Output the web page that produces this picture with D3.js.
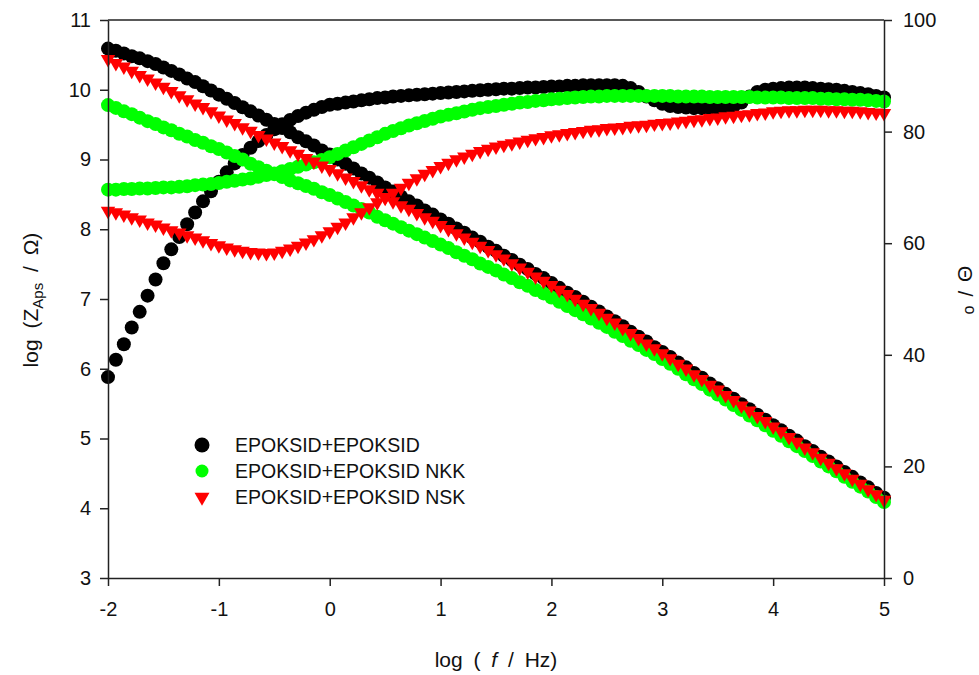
<!DOCTYPE html>
<html>
<head>
<meta charset="utf-8">
<script src="https://cdn.jsdelivr.net/npm/d3@7"></script>
<style>
  body { margin: 0; background: #fff; }
  text { font-family: Arial, "Liberation Sans", sans-serif; fill: #111; }
</style>
</head>
<body>
<div id="chart"></div>
<script>
// frequency grid, log(f / Hz)
var logF = [
  -2.000, -1.929, -1.857, -1.786, -1.714, -1.643, -1.571, -1.500, -1.429, -1.357, -1.286, -1.214, -1.143, -1.071,
  -1.000, -0.929, -0.857, -0.786, -0.714, -0.643, -0.571, -0.500, -0.429, -0.357, -0.286, -0.214, -0.143, -0.071,
  0.000, 0.071, 0.143, 0.214, 0.286, 0.357, 0.429, 0.500, 0.571, 0.643, 0.714, 0.786, 0.857, 0.929,
  1.000, 1.071, 1.143, 1.214, 1.286, 1.357, 1.429, 1.500, 1.571, 1.643, 1.714, 1.786, 1.857, 1.929,
  2.000, 2.071, 2.143, 2.214, 2.286, 2.357, 2.429, 2.500, 2.571, 2.643, 2.714, 2.786, 2.857, 2.929,
  3.000, 3.071, 3.143, 3.214, 3.286, 3.357, 3.429, 3.500, 3.571, 3.643, 3.714, 3.786, 3.857, 3.929,
  4.000, 4.071, 4.143, 4.214, 4.286, 4.357, 4.429, 4.500, 4.571, 4.643, 4.714, 4.786, 4.857, 4.929,
  5.000
];

// EPOKSID+EPOKSID
var zEpoksid = [
  10.59, 10.56, 10.52, 10.48, 10.45, 10.41, 10.37, 10.32, 10.27, 10.22, 10.16, 10.11, 10.05, 9.99,
  9.93, 9.87, 9.81, 9.75, 9.69, 9.63, 9.57, 9.51, 9.45, 9.39, 9.32, 9.26, 9.20, 9.13,
  9.07, 9.00, 8.94, 8.87, 8.80, 8.74, 8.67, 8.60, 8.54, 8.47, 8.40, 8.34, 8.27, 8.21,
  8.14, 8.08, 8.01, 7.95, 7.88, 7.82, 7.75, 7.69, 7.62, 7.56, 7.49, 7.43, 7.36, 7.30,
  7.23, 7.16, 7.09, 7.03, 6.96, 6.89, 6.82, 6.75, 6.68, 6.61, 6.53, 6.46, 6.39, 6.31,
  6.24, 6.17, 6.09, 6.02, 5.94, 5.87, 5.79, 5.72, 5.64, 5.57, 5.49, 5.42, 5.34, 5.27,
  5.19, 5.12, 5.04, 4.97, 4.89, 4.82, 4.74, 4.67, 4.60, 4.52, 4.45, 4.37, 4.30, 4.22,
  4.15
];
var phEpoksid = [
  36.0, 39.1, 41.9, 44.9, 47.7, 50.6, 53.5, 56.4, 58.9, 61.1, 63.4, 65.5, 67.5, 69.3,
  71.0, 72.7, 74.3, 75.8, 77.1, 78.3, 79.4, 80.4, 81.3, 82.1, 82.8, 83.4, 83.9, 84.4,
  84.8, 85.0, 85.2, 85.4, 85.6, 85.8, 86.0, 86.1, 86.3, 86.4, 86.5, 86.6, 86.7, 86.8,
  86.9, 87.0, 87.1, 87.2, 87.3, 87.4, 87.5, 87.6, 87.7, 87.7, 87.8, 87.9, 87.9, 88.0,
  88.1, 88.1, 88.2, 88.2, 88.3, 88.3, 88.3, 88.3, 88.3, 88.2, 87.8, 87.1, 86.3, 85.6,
  85.0, 84.6, 84.4, 84.3, 84.2, 84.2, 84.2, 84.2, 84.3, 84.5, 85.2, 86.3, 87.1, 87.5,
  87.7, 87.8, 87.9, 87.9, 87.9, 87.8, 87.7, 87.6, 87.5, 87.3, 87.1, 86.9, 86.7, 86.4,
  86.1
];

// EPOKSID+EPOKSID NKK
var zNkk = [
  9.78, 9.74, 9.69, 9.65, 9.60, 9.55, 9.51, 9.46, 9.42, 9.37, 9.33, 9.28, 9.24, 9.19,
  9.15, 9.10, 9.05, 9.00, 8.94, 8.89, 8.84, 8.79, 8.75, 8.70, 8.66, 8.62, 8.58, 8.53,
  8.49, 8.44, 8.39, 8.34, 8.29, 8.24, 8.18, 8.13, 8.08, 8.03, 7.98, 7.93, 7.88, 7.83,
  7.78, 7.73, 7.67, 7.62, 7.57, 7.51, 7.46, 7.41, 7.35, 7.30, 7.24, 7.19, 7.13, 7.08,
  7.02, 6.96, 6.90, 6.84, 6.78, 6.72, 6.66, 6.60, 6.53, 6.47, 6.40, 6.34, 6.27, 6.21,
  6.14, 6.07, 6.00, 5.92, 5.85, 5.78, 5.70, 5.63, 5.56, 5.48, 5.41, 5.33, 5.26, 5.19,
  5.11, 5.04, 4.96, 4.89, 4.82, 4.75, 4.67, 4.60, 4.53, 4.45, 4.38, 4.31, 4.24, 4.16,
  4.09
];
var phNkk = [
  69.6, 69.6, 69.7, 69.7, 69.8, 69.8, 69.9, 70.0, 70.0, 70.1, 70.2, 70.4, 70.5, 70.6,
  70.8, 71.0, 71.2, 71.4, 71.6, 71.9, 72.2, 72.5, 72.9, 73.3, 73.7, 74.1, 74.5, 74.9,
  75.4, 76.0, 76.6, 77.2, 77.8, 78.4, 79.0, 79.6, 80.1, 80.6, 81.1, 81.5, 81.9, 82.3,
  82.7, 83.0, 83.3, 83.6, 83.9, 84.2, 84.4, 84.6, 84.8, 85.0, 85.2, 85.3, 85.5, 85.6,
  85.8, 85.9, 86.0, 86.1, 86.2, 86.3, 86.3, 86.4, 86.4, 86.4, 86.4, 86.4, 86.4, 86.4,
  86.4, 86.4, 86.3, 86.3, 86.3, 86.3, 86.2, 86.2, 86.2, 86.2, 86.2, 86.2, 86.1, 86.1,
  86.1, 86.1, 86.0, 86.0, 86.0, 86.0, 85.9, 85.9, 85.8, 85.8, 85.7, 85.7, 85.6, 85.5,
  85.4
];

// EPOKSID+EPOKSID NSK
var zNsk = [
  10.44, 10.38, 10.33, 10.27, 10.21, 10.16, 10.10, 10.04, 9.98, 9.92, 9.86, 9.80, 9.75, 9.69,
  9.63, 9.57, 9.52, 9.46, 9.41, 9.35, 9.30, 9.24, 9.19, 9.13, 9.08, 9.02, 8.97, 8.91,
  8.86, 8.80, 8.74, 8.69, 8.63, 8.57, 8.52, 8.46, 8.40, 8.34, 8.29, 8.23, 8.17, 8.12,
  8.06, 8.00, 7.94, 7.88, 7.82, 7.76, 7.70, 7.64, 7.58, 7.51, 7.45, 7.39, 7.32, 7.26,
  7.20, 7.13, 7.07, 7.00, 6.93, 6.87, 6.80, 6.73, 6.66, 6.58, 6.51, 6.44, 6.36, 6.29,
  6.22, 6.15, 6.07, 6.00, 5.92, 5.85, 5.77, 5.70, 5.62, 5.55, 5.47, 5.40, 5.32, 5.25,
  5.17, 5.10, 5.02, 4.95, 4.87, 4.80, 4.72, 4.65, 4.57, 4.50, 4.42, 4.35, 4.27, 4.20,
  4.12
];
var phNsk = [
  65.8, 65.5, 65.1, 64.6, 64.2, 63.7, 63.3, 62.8, 62.3, 61.9, 61.4, 61.0, 60.5, 60.0,
  59.6, 59.2, 58.9, 58.6, 58.4, 58.3, 58.2, 58.3, 58.6, 59.0, 59.5, 60.1, 60.7, 61.4,
  62.1, 62.9, 63.7, 64.6, 65.5, 66.4, 67.3, 68.1, 69.0, 69.9, 70.8, 71.6, 72.4, 73.1,
  73.8, 74.4, 75.0, 75.5, 76.0, 76.5, 76.9, 77.3, 77.6, 77.9, 78.2, 78.5, 78.8, 79.0,
  79.3, 79.5, 79.7, 79.9, 80.1, 80.3, 80.4, 80.6, 80.7, 80.8, 81.0, 81.1, 81.2, 81.4,
  81.5, 81.6, 81.8, 81.9, 82.1, 82.2, 82.4, 82.5, 82.7, 82.8, 83.0, 83.1, 83.3, 83.4,
  83.6, 83.7, 83.8, 83.8, 83.9, 83.9, 83.9, 83.8, 83.8, 83.7, 83.7, 83.6, 83.5, 83.4,
  83.3
];

var seriesNames = ["EPOKSID+EPOKSID", "EPOKSID+EPOKSID NKK", "EPOKSID+EPOKSID NSK"];
var xTicks = [-2, -1, 0, 1, 2, 3, 4, 5];
var yTicks = [3, 4, 5, 6, 7, 8, 9, 10, 11];
var y2Ticks = [0, 20, 40, 60, 80, 100];

var width = 979, height = 675;
var margin = {top: 20, right: 95, bottom: 97, left: 108};

var svg = d3.select("#chart").append("svg")
    .attr("width", width)
    .attr("height", height);

var x = d3.scaleLinear().domain([-2, 5]).range([margin.left, width - margin.right]);
var y = d3.scaleLinear().domain([3, 11]).range([height - margin.bottom, margin.top]);
var y2 = d3.scaleLinear().domain([0, 100]).range([height - margin.bottom, margin.top]);

var triDown = d3.symbol().type(d3.symbolTriangle).size(90)();

var series = [
  {name: seriesNames[0], z: zEpoksid, ph: phEpoksid, color: "#000000", shape: "circle"},
  {name: seriesNames[1], z: zNkk, ph: phNkk, color: "#00ff00", shape: "circle"},
  {name: seriesNames[2], z: zNsk, ph: phNsk, color: "#ff0000", shape: "triangle"}
];

var plot = svg.append("g");

series.forEach(function(s) {
  var g = plot.append("g");
  [[s.z, y], [s.ph, y2]].forEach(function(pair) {
    var vals = pair[0], sc = pair[1];
    var pts = logF.map(function(f, i) { return {f: f, v: vals[i]}; });
    if (s.shape == "circle") {
      g.selectAll(null)
        .data(pts)
        .enter().append("circle")
          .attr("cx", function(d) { return x(d.f); })
          .attr("cy", function(d) { return sc(d.v); })
          .attr("r", 7)
          .attr("fill", s.color);
    } else {
      g.selectAll(null)
        .data(pts)
        .enter().append("path")
          .attr("d", triDown)
          .attr("transform", function(d) {
            return "translate(" + x(d.f) + "," + sc(d.v) + ") rotate(180)";
          })
          .attr("fill", s.color);
    }
  });
});

// axes
var axisColor = "#222";

var xAxis = svg.append("g")
    .attr("transform", "translate(0," + (height - margin.bottom) + ")")
    .call(d3.axisBottom(x).tickValues(xTicks).tickSize(8).tickSizeOuter(0).tickPadding(16)
      .tickFormat(function(d) { return String(d); }));

var yAxis = svg.append("g")
    .attr("transform", "translate(" + margin.left + ",0)")
    .call(d3.axisLeft(y).tickValues(yTicks).tickSize(8).tickSizeOuter(0).tickPadding(9)
      .tickFormat(function(d) { return String(d); }));

var y2Axis = svg.append("g")
    .attr("transform", "translate(" + (width - margin.right) + ",0)")
    .call(d3.axisRight(y2).tickValues(y2Ticks).tickSize(8).tickSizeOuter(0).tickPadding(11)
      .tickFormat(function(d) { return String(d); }));

[xAxis, yAxis, y2Axis].forEach(function(a) {
  a.selectAll("path, line").attr("stroke", axisColor).attr("stroke-width", 1.5);
  a.selectAll("text").attr("font-size", 20).attr("fill", "#111")
    .attr("font-family", "Arial, 'Liberation Sans', sans-serif");
});

// top frame line
svg.append("line")
    .attr("x1", margin.left).attr("x2", width - margin.right)
    .attr("y1", margin.top).attr("y2", margin.top)
    .attr("stroke", axisColor).attr("stroke-width", 1.5);

// axis titles
var xt = svg.append("text")
    .attr("x", 496).attr("y", 667)
    .attr("text-anchor", "middle")
    .attr("font-size", 21)
    .style("word-spacing", "5px");
xt.append("tspan").text("log ( ");
xt.append("tspan").attr("font-style", "italic").text("f");
xt.append("tspan").text(" / Hz)");

var yt = svg.append("text")
    .attr("transform", "translate(38,300) rotate(-90)")
    .attr("text-anchor", "middle")
    .attr("font-size", 21)
    .style("word-spacing", "5px");
yt.append("tspan").text("log (Z");
yt.append("tspan").attr("font-size", 15).attr("dy", 5).text("Aps");
yt.append("tspan").attr("dy", -5).text(" / \u03A9)");

var y2t = svg.append("text")
    .attr("transform", "translate(958,290) rotate(90)")
    .attr("text-anchor", "middle")
    .attr("font-size", 21)
    .style("word-spacing", "3px");
y2t.append("tspan").text("\u0398 / ");
y2t.append("tspan").attr("dy", -7).attr("font-size", 16).text("o");

// legend
var legend = svg.append("g");
var legendY = [445, 471, 497];
series.forEach(function(s, i) {
  if (s.shape == "circle") {
    legend.append("circle")
      .attr("cx", 202).attr("cy", legendY[i])
      .attr("r", i == 0 ? 7.5 : 6.5)
      .attr("fill", s.color);
  } else {
    legend.append("path")
      .attr("d", d3.symbol().type(d3.symbolTriangle).size(97)())
      .attr("transform", "translate(202," + legendY[i] + ") rotate(180)")
      .attr("fill", s.color);
  }
  legend.append("text")
    .attr("x", 235).attr("y", legendY[i] + 7)
    .attr("font-size", 19.5)
    .text(s.name);
});
</script>
</body>
</html>
